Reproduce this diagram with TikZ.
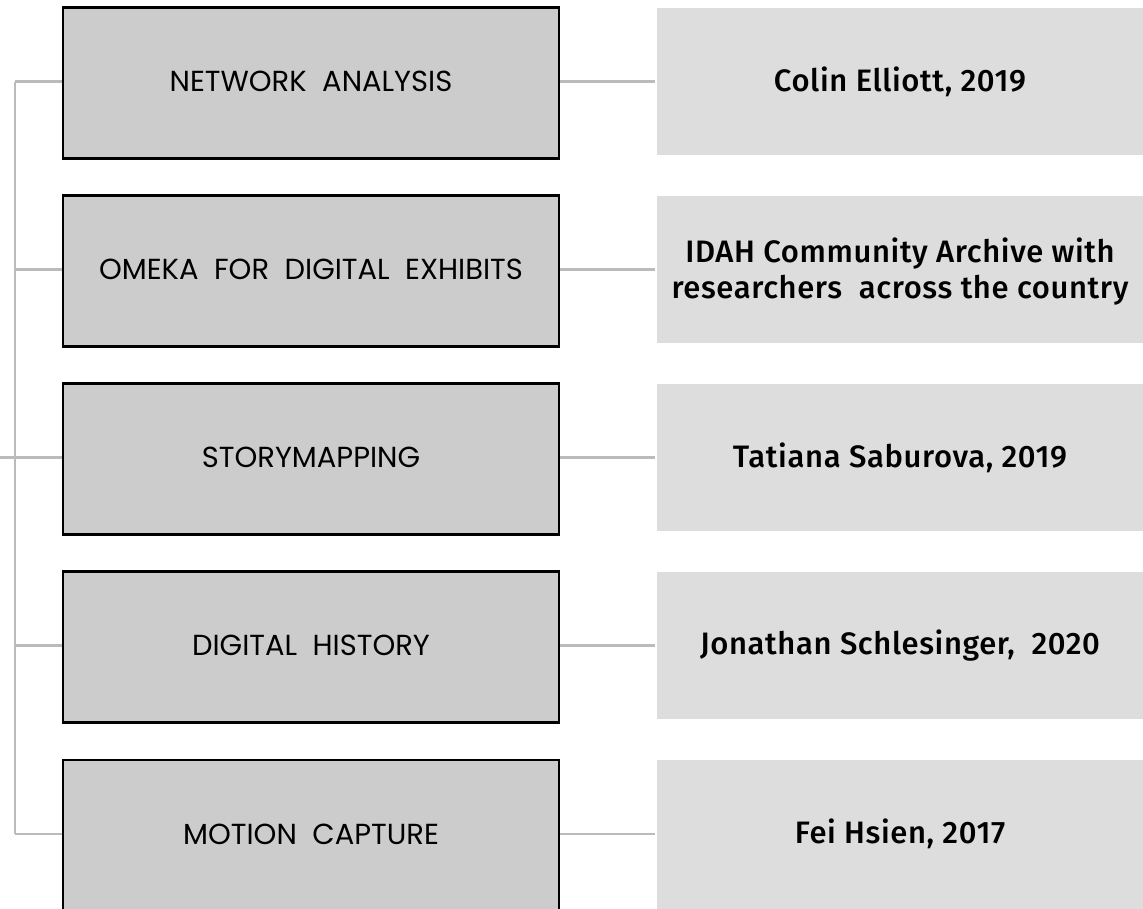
\documentclass[tikz,border=0pt]{standalone}
\usepackage{fontspec}
\newfontfamily\leftfont{Poppins}
\newfontfamily\rightfont[LetterSpace=2]{Fira Sans Medium}
\definecolor{leftfill}{HTML}{CCCCCC}
\definecolor{rightfill}{HTML}{DDDDDD}
\definecolor{linkgray}{HTML}{BBBBBB}
\tikzset{
  topic/.style={draw=black, line width=2.5pt, fill=leftfill, minimum width=496pt, minimum height=151pt, inner sep=0pt, anchor=north},
  source/.style={fill=rightfill, draw=none, minimum width=500pt, minimum height=147pt, inner sep=0pt, anchor=north west},
  topictext/.style={font=\leftfont\fontsize{29}{34}\selectfont, text=black},
  sourcetext/.style={font=\rightfont\fontsize{31}{36}\selectfont, text=black, align=center},
  link/.style={draw=linkgray, line width=2.6pt},
}
\begin{document}
\begin{tikzpicture}[x=1pt,y=-1pt]
\useasboundingbox (0,0) rectangle (1143,908);
\clip (0,0) rectangle (1143,908);
\foreach \i/\y in {1/81.5,2/269.5,3/457.5,4/645.5,5/834}{
  \coordinate (t\i) at (15,\y);
}
\node[topic] (l1) at (311,6) {};
\node[topic] (l2) at (311,194) {};
\node[topic] (l3) at (311,382) {};
\node[topic] (l4) at (311,570) {};
\node[topic, minimum height=190pt] (l5) at (311,758.5) {};
\node[source] (r1) at (657,8) {};
\node[source] (r2) at (657,196) {};
\node[source] (r3) at (657,384) {};
\node[source] (r4) at (657,572) {};
\node[source, minimum height=190pt] (r5) at (657,760) {};
\node[topictext] (lt1) at (311,81.5) {NETWORK~~ANALYSIS};
\node[topictext] (lt2) at (311,269.5) {OMEKA~~FOR~~DIGITAL~~EXHIBITS};
\node[topictext] (lt3) at (311,457.5) {STORYMAPPING};
\node[topictext] (lt4) at (311,645.5) {DIGITAL~~HISTORY};
\node[topictext] (lt5) at (311,834) {MOTION~~CAPTURE};
\node[sourcetext] (st1) at (900,81.5) {Colin Elliott, 2019};
\node[sourcetext] (st2) at (900,272) {IDAH Community Archive with\\researchers~ across the country};
\node[sourcetext] (st3) at (900,457.5) {Tatiana Saburova, 2019};
\node[sourcetext] (st4) at (900,645.5) {Jonathan Schlesinger,~ 2020};
\node[sourcetext] (st5) at (900,834) {Fei Hsien, 2017};
\coordinate (root) at (0,457.5);
\draw[link] (t1) -- (t5);
\draw[link] (root) -- (t3);
\foreach \i in {1,...,5}{
  \draw[link] (t\i) -- (t\i -| l\i.west);
  \draw[link, shorten >=2pt] (t\i -| l\i.east) -- (t\i -| r\i.west);
}
\end{tikzpicture}
\end{document}
